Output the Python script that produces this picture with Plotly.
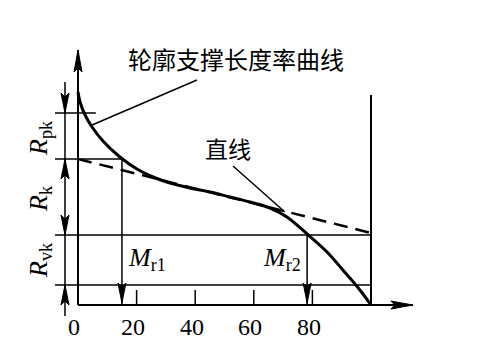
import plotly.graph_objects as go

# ---------------- data ----------------
# bearing-ratio curve (support length ratio in %, profile height in arbitrary units)
support_pct = [0, 0.7, 2.4, 4.8, 8.5, 14.3, 20.1, 25.6, 31.4, 38.2, 45.1, 51.9, 58.7, 65.5, 71.3, 78.2, 85.0, 90.4, 96.2, 100]
profile_height = [21.3, 20.3, 19.0, 17.8, 16.4, 14.8, 13.6, 12.8, 12.2, 11.7, 11.3, 10.8, 10.3, 9.7, 8.8, 7.1, 5.3, 3.5, 1.5, 0]

# equivalent straight line
line_pct = [0, 100]
line_height = [14.6, 7.2]

# characteristic levels
level_pk_top = 19.2
level_k_top = 14.6
level_vk_top = 7.0
level_vk_bottom = 2.0

Mr1 = 15.0
Mr2 = 78.2

tick_vals = [0, 20, 40, 60, 80]
tick_labels = ["0", "20", "40", "60", "80"]

curve_label = "轮廓支撑长度率曲线"
line_label = "直线"

# ---------------- geometry helpers ----------------
PX_X = 2.93   # pixels per percent
PX_Y = 10.0   # pixels per height unit
X0_PX = 78
Y0_PX = 305
W, H = 500, 360

x_range = [-X0_PX / PX_X, (W - X0_PX) / PX_X]
y_range = [(Y0_PX - H) / PX_Y, Y0_PX / PX_Y]

SERIF = "Liberation Serif, Times New Roman, serif"
CJK = "Noto Sans CJK SC, sans-serif"

fig = go.Figure()
shapes = []


def seg(x0, y0, x1, y1, w=1.5):
    shapes.append(dict(type="line", xref="x", yref="y", x0=x0, y0=y0, x1=x1, y1=y1,
                       line=dict(color="black", width=w)))


def arrow_head(xt, yt, dx, dy, L=20, hw=4, notch=4):
    # (dx, dy) direction in pixel space (y up) pointing toward the tip
    px, py = -dy, dx
    def pt(a, b):
        return xt + a / PX_X, yt + b / PX_Y
    b1 = pt(-dx * L + px * hw, -dy * L + py * hw)
    b2 = pt(-dx * L - px * hw, -dy * L - py * hw)
    bn = pt(-dx * (L - notch), -dy * (L - notch))
    path = f"M{xt},{yt} L{b1[0]},{b1[1]} L{bn[0]},{bn[1]} L{b2[0]},{b2[1]} Z"
    shapes.append(dict(type="path", xref="x", yref="y", path=path,
                       fillcolor="black", line=dict(color="black", width=1)))


# axes
y_axis_top = 25.5
x_axis_end = 114.3
seg(0, 0, 0, y_axis_top, 2)
arrow_head(0, y_axis_top, 0, 1, L=22, hw=4)
seg(0, 0, x_axis_end, 0, 2)
arrow_head(x_axis_end, 0, 1, 0, L=22, hw=4)
seg(100, 0, 100, 21.0, 2)

# ticks
for t in tick_vals[1:]:
    seg(t, 0, t, 1.5, 1.5)

# horizontal level lines
left_ext = -7.85
seg(left_ext, level_pk_top, 6.1, level_pk_top)
seg(left_ext, level_k_top, Mr1, level_k_top)
seg(left_ext, level_vk_top, 100, level_vk_top)
seg(left_ext, level_vk_bottom, 100, level_vk_bottom)

# dimension line
dim_x = -4.44
seg(dim_x, 22.3, dim_x, -1.1)
arrow_head(dim_x, level_pk_top, 0, -1)
arrow_head(dim_x, level_k_top, 0, 1)
arrow_head(dim_x, level_vk_top, 0, -1)
arrow_head(dim_x, level_vk_bottom, 0, 1)

# Mr lines
seg(Mr1, level_k_top, Mr1, 0)
arrow_head(Mr1, 0.2, 0, -1)
seg(Mr2, level_vk_top, Mr2, 0)
arrow_head(Mr2, 0.2, 0, -1)

# leader lines
seg(4.8, 18.0, 40.6, 22.5)
seg(52.9, 13.9, 70.6, 9.3)

# traces
fig.add_trace(go.Scatter(x=line_pct, y=line_height, mode="lines",
                         line=dict(color="black", width=2.5, dash="14px,8px"),
                         hoverinfo="skip"))
fig.add_trace(go.Scatter(x=support_pct, y=profile_height, mode="lines",
                         line=dict(color="black", width=3, shape="spline", smoothing=1.0),
                         hoverinfo="skip"))

annotations = []


def text(x, y, s, size=23, font=SERIF, angle=0):
    annotations.append(dict(x=x, y=y, xref="x", yref="y", text=s, showarrow=False,
                            textangle=angle, font=dict(family=font, size=size, color="black")))


text(53.9, 24.7, curve_label, size=24, font=CJK)
text(51.2, 15.7, line_label, size=23, font=CJK)
text(-13.0, 16.7, "<i>R</i><sub>pk</sub>", size=26, angle=-90)
text(-13.0, 10.7, "<i>R</i><sub>k</sub>", size=26, angle=-90)
text(-13.0, 4.5, "<i>R</i><sub>vk</sub>", size=26, angle=-90)
text(23.7, 4.6, "<i>M</i><sub>r1</sub>", size=26)
text(69.5, 4.6, "<i>M</i><sub>r2</sub>", size=26)
for v, lab in zip(tick_vals, tick_labels):
    text(v - 1.2, -2.2, lab, size=24)

fig.update_layout(
    width=W, height=H, margin=dict(l=0, r=0, t=0, b=0),
    paper_bgcolor="white", plot_bgcolor="white", showlegend=False,
    xaxis=dict(range=x_range, visible=False, fixedrange=True),
    yaxis=dict(range=y_range, visible=False, fixedrange=True),
    shapes=shapes, annotations=annotations,
)

fig.write_html("out.html", config={"displayModeBar": False},
               post_script="document.body.style.margin='0';document.body.style.overflow='hidden';")
